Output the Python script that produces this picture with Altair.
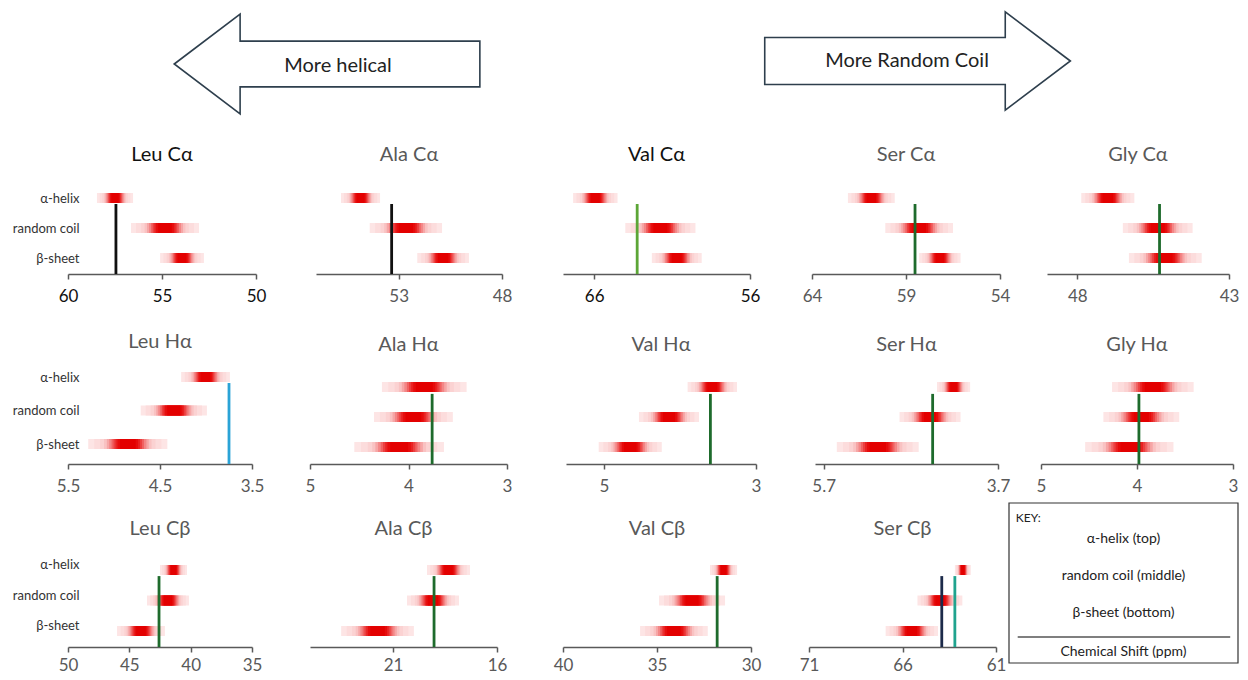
import altair as alt
import pandas as pd

FONT = "Lato"

# ---------------- data ----------------
TITLES = ["Leu Cα", "Ala Cα", "Val Cα", "Ser Cα", "Gly Cα",
          "Leu Hα", "Ala Hα", "Val Hα", "Ser Hα", "Gly Hα",
          "Leu Cβ", "Ala Cβ", "Val Cβ", "Ser Cβ"]
X_MAX = [60, 57, 68, 64, 49, 5.5, 5, 5.5, 5.8, 5, 50, 25, 40, 71]
X_MIN = [50, 48, 56, 54, 43, 3.5, 3, 3, 3.7, 3, 35, 16, 30, 61]
X_TICKS = [[60, 55, 50], [53, 48], [66, 56], [64, 59, 54], [48, 43],
           [5.5, 4.5, 3.5], [5, 4, 3], [5, 3], [5.7, 3.7], [5, 4, 3],
           [50, 45, 40, 35], [21, 16], [40, 35, 30], [71, 66, 61]]
STATES = ["α-helix", "random coil", "β-sheet"]
HELIX_FROM = [58.46, 55.79, 67.35, 62.09, 47.87, 4.27, 4.27, 3.90, 4.40, 4.26, 42.5, 19.37, 32.18, 63.2]
HELIX_TO = [56.54, 53.9, 64.5, 59.6, 46.12, 3.74, 3.41, 3.25, 4.02, 3.41, 40.3, 17.3, 30.74, 62.35]
COIL_FROM = [56.65, 54.4, 64.0, 60.1, 46.5, 4.71, 4.35, 4.54, 4.83, 4.35, 43.56, 20.33, 34.89, 65.2]
COIL_TO = [53.03, 50.9, 59.5, 56.5, 44.2, 3.99, 3.55, 3.75, 4.13, 3.56, 40.14, 17.83, 31.38, 62.8]
SHEET_FROM = [55.1, 52.1, 62.3, 58.3, 46.3, 5.28, 4.55, 5.07, 5.55, 4.54, 46.0, 23.5, 35.9, 66.9]
SHEET_TO = [52.77, 49.6, 59.1, 56.1, 43.9, 4.42, 3.64, 4.24, 4.61, 3.62, 42.1, 20.0, 32.3, 64.1]
REF_SHIFTS = [[57.45], [53.34], [63.24], [58.52], [45.29],
              [3.75], [3.76], [3.60], [4.45], [3.98],
              [42.58], [19.03], [31.8], [63.9, 63.2]]
ARROW_TEXT = ["More helical", "More Random Coil"]
ARROW_DIR = ["left", "right"]
KEY_ITEMS = ["α-helix (top)", "random coil (middle)", "β-sheet (bottom)"]
KEY_HEAD = "KEY:"
KEY_AXIS = "Chemical Shift (ppm)"

# ---------------- styles / layout ----------------
DG = "#1e6b2c"
BLK = "#111111"
GRY = "#595959"
REF_COLORS = [[BLK], [BLK], ["#5ca636"], [DG], [DG],
              ["#2aa3d6"], [DG], [DG], [DG], [DG],
              [DG], [DG], [DG], ["#1c2a4a", "#1fa38e"]]
TITLE_COLORS = [BLK, GRY, BLK, GRY, GRY] + [GRY] * 9
TICK_COLORS = [BLK, GRY, BLK, GRY, GRY] + [GRY] * 9
AXIS_C = "#595959"

# shading bands (fraction of bar half-width, colour), drawn outer -> inner
SHADES = [(1.0, "#fde5e5"), (0.85, "#fcdcdc"), (0.7, "#fbd2d2"), (0.6, "#f9c2c2"),
          (0.53, "#f6a6a6"), (0.47, "#f38686"), (0.41, "#f06262"), (0.36, "#ec4040"),
          (0.31, "#e92222"), (0.26, "#e60c0c"), (0.2, "#e30000")]

COL_W = [270, 250, 250, 227, 235]
ROW_H = [133, 130, 190, 183]
X_RANGE = [[60, 248], [38, 224], [35, 222], [34, 222], [42, 224],
           [60, 244], [32, 229], [38, 228], [37, 220], [36, 228],
           [60, 244], [32, 219], [35, 223], [31, 218]]
Y_BASE = [0.467] * 5 + [0.403] + [0.433] * 4 + [0.475] * 4
Y_UNIT = [30] * 5 + [33.5] + [30] * 4 + [30.5] * 4
TITLE_LEVEL = [4.43] * 5 + [4.04] + [4.4] * 4 + [4.34] * 4
REF_TOP = [2.8] * 5 + [2.82] + [2.77] * 4 + [2.8] * 4
LABEL_OFFSET = [0, 0, -5]
LABEL_PAD = [9, 9, 5]


def panel(i):
    row, col = i // 5, i % 5
    h = ROW_H[row + 1]
    d0 = Y_BASE[i]
    d1 = d0 + h / Y_UNIT[i]
    xs = alt.Scale(domain=[X_MAX[i], X_MIN[i]], range=X_RANGE[i], nice=False, zero=False)
    ys = alt.Scale(domain=[d0, d1], nice=False, zero=False, padding=0)
    xaxis = alt.Axis(values=X_TICKS[i], format="~g", title=None, grid=False,
                     domainColor=AXIS_C, tickColor=AXIS_C, domainWidth=1.5, tickWidth=1.5,
                     tickSize=5, labelFontSize=17, labelColor=TICK_COLORS[i], labelFont=FONT,
                     labelPadding=LABEL_PAD[row], labelFlush=False, labelOverlap=False)
    if col == 0:
        expr = "datum.value == 3 ? '%s' : (datum.value == 2 ? '%s' : '%s')" % tuple(STATES)
        yaxis = alt.Axis(values=[1, 2, 3], labelExpr=expr, domain=False, ticks=False, grid=False,
                         title=None, offset=-73, labelFontSize=13, labelColor="#333333",
                         labelFont=FONT, labelPadding=2, labelOffset=LABEL_OFFSET[row])
    else:
        yaxis = None
    froms = [HELIX_FROM[i], COIL_FROM[i], SHEET_FROM[i]]
    tos = [HELIX_TO[i], COIL_TO[i], SHEET_TO[i]]
    rows = []
    for frac, shade in SHADES:
        for lvl, a, b in zip([3, 2, 1], froms, tos):
            mid = (a + b) / 2
            rows.append({"level": lvl, "x_a": mid + (a - mid) * frac,
                         "x_b": mid + (b - mid) * frac, "shade": shade})
    bars_df = pd.DataFrame(rows)
    bars = alt.Chart(bars_df).mark_bar(size=10, orient="horizontal").encode(
        x=alt.X("x_a:Q", scale=xs, axis=xaxis),
        x2="x_b:Q",
        y=alt.Y("level:Q", scale=ys, axis=yaxis),
        color=alt.Color("shade:N", scale=None),
    )
    ref_df = pd.DataFrame({"shift": REF_SHIFTS[i], "c": REF_COLORS[i]})
    rules = alt.Chart(ref_df).mark_rule(strokeWidth=2.8).encode(
        x=alt.X("shift:Q", scale=xs, axis=xaxis),
        y=alt.datum(REF_TOP[i]),
        y2=alt.datum(d0),
        color=alt.Color("c:N", scale=None),
    )
    title = alt.Chart(pd.DataFrame({"t": [TITLES[i]]})).mark_text(
        font=FONT, fontSize=20, color=TITLE_COLORS[i], baseline="middle", align="center"
    ).encode(
        x=alt.datum((X_MAX[i] + X_MIN[i]) / 2),
        y=alt.datum(TITLE_LEVEL[i]),
        text="t:N",
    )
    return alt.layer(bars, rules, title).properties(width=COL_W[col], height=h)


# ---------------- banner ----------------
LEFT_PATH = "M -1 0 L -0.569 -0.327 L -0.569 -0.15 L 1 -0.15 L 1 0.15 L -0.569 0.15 L -0.569 0.327 Z"
RIGHT_PATH = "M 1 0 L 0.574 -0.321 L 0.574 -0.154 L -1 -0.154 L -1 0.154 L 0.574 0.154 L 0.574 0.321 Z"
banner_df = pd.DataFrame({
    "label": ARROW_TEXT,
    "dir": ARROW_DIR,
    "ax": [0.2573, 0.7335],
    "ay": [0.6015, 0.624],
    "tx": [0.2661, 0.725],
    "ty": [0.586, 0.624],
})
bx = alt.Scale(domain=[0, 1], range=[0, 1240])
by = alt.Scale(domain=[0, 1])
arrows = alt.Chart(banner_df).mark_point(
    filled=True, fill="white", stroke="#2e3f4d", strokeWidth=1.6, size=93400, opacity=1
).encode(
    x=alt.X("ax:Q", scale=bx, axis=None),
    y=alt.Y("ay:Q", scale=by, axis=None),
    shape=alt.Shape("dir:N", scale=alt.Scale(domain=ARROW_DIR, range=[LEFT_PATH, RIGHT_PATH]), legend=None),
)
arrow_text = alt.Chart(banner_df).mark_text(font=FONT, fontSize=20, color="#222222").encode(
    x=alt.X("tx:Q", scale=bx, axis=None),
    y=alt.Y("ty:Q", scale=by, axis=None),
    text="label:N",
)
banner = alt.layer(arrows, arrow_text).properties(width=COL_W[0], height=ROW_H[0])


def spacer(w, h):
    return alt.Chart(pd.DataFrame({"a": [0]})).mark_point(opacity=0, size=1).encode(
        x=alt.value(20), y=alt.value(20)).properties(width=w, height=h)


# ---------------- key ----------------
kx = alt.Scale(domain=[0, 1], range=[4, 233])
ky = alt.Scale(domain=[0, 1], range=[199, 39])
box = alt.Chart(pd.DataFrame({"x": [0], "x2": [1], "y": [0], "y2": [1]})).mark_rect(
    fill="white", stroke="#333333", strokeWidth=1.2).encode(
    x=alt.X("x:Q", scale=kx, axis=None), x2="x2:Q",
    y=alt.Y("y:Q", scale=ky, axis=None), y2="y2:Q")
key_items = alt.Chart(pd.DataFrame({"t": KEY_ITEMS + [KEY_AXIS], "y": [0.775, 0.544, 0.3125, 0.069],
                                    "x": [0.5] * 4})).mark_text(
    font=FONT, fontSize=14, color="#222222").encode(
    x=alt.X("x:Q", scale=kx, axis=None), y=alt.Y("y:Q", scale=ky, axis=None), text="t:N")
key_head = alt.Chart(pd.DataFrame({"t": [KEY_HEAD], "x": [0.03], "y": [0.906]})).mark_text(
    font=FONT, fontSize=12, color="#222222", align="left").encode(
    x=alt.X("x:Q", scale=kx, axis=None), y=alt.Y("y:Q", scale=ky, axis=None), text="t:N")
key_line = alt.Chart(pd.DataFrame({"x": [0.038], "x2": [0.966], "y": [0.1625]})).mark_rule(
    color="#555555", strokeWidth=1.5).encode(
    x=alt.X("x:Q", scale=kx, axis=None), x2="x2:Q", y=alt.Y("y:Q", scale=ky, axis=None))
key = alt.layer(box, key_items, key_head, key_line).properties(width=COL_W[4], height=ROW_H[3])

cells = [banner] + [spacer(COL_W[c], ROW_H[0]) for c in range(1, 5)]
cells += [panel(i) for i in range(14)]
cells += [key]

chart = alt.concat(*cells, columns=5, spacing=0, bounds="flush", align="each").properties(
    padding=0, background="white"
).configure_view(stroke=None)

chart.save("out.html", embed_options={"renderer": "svg", "actions": False})
